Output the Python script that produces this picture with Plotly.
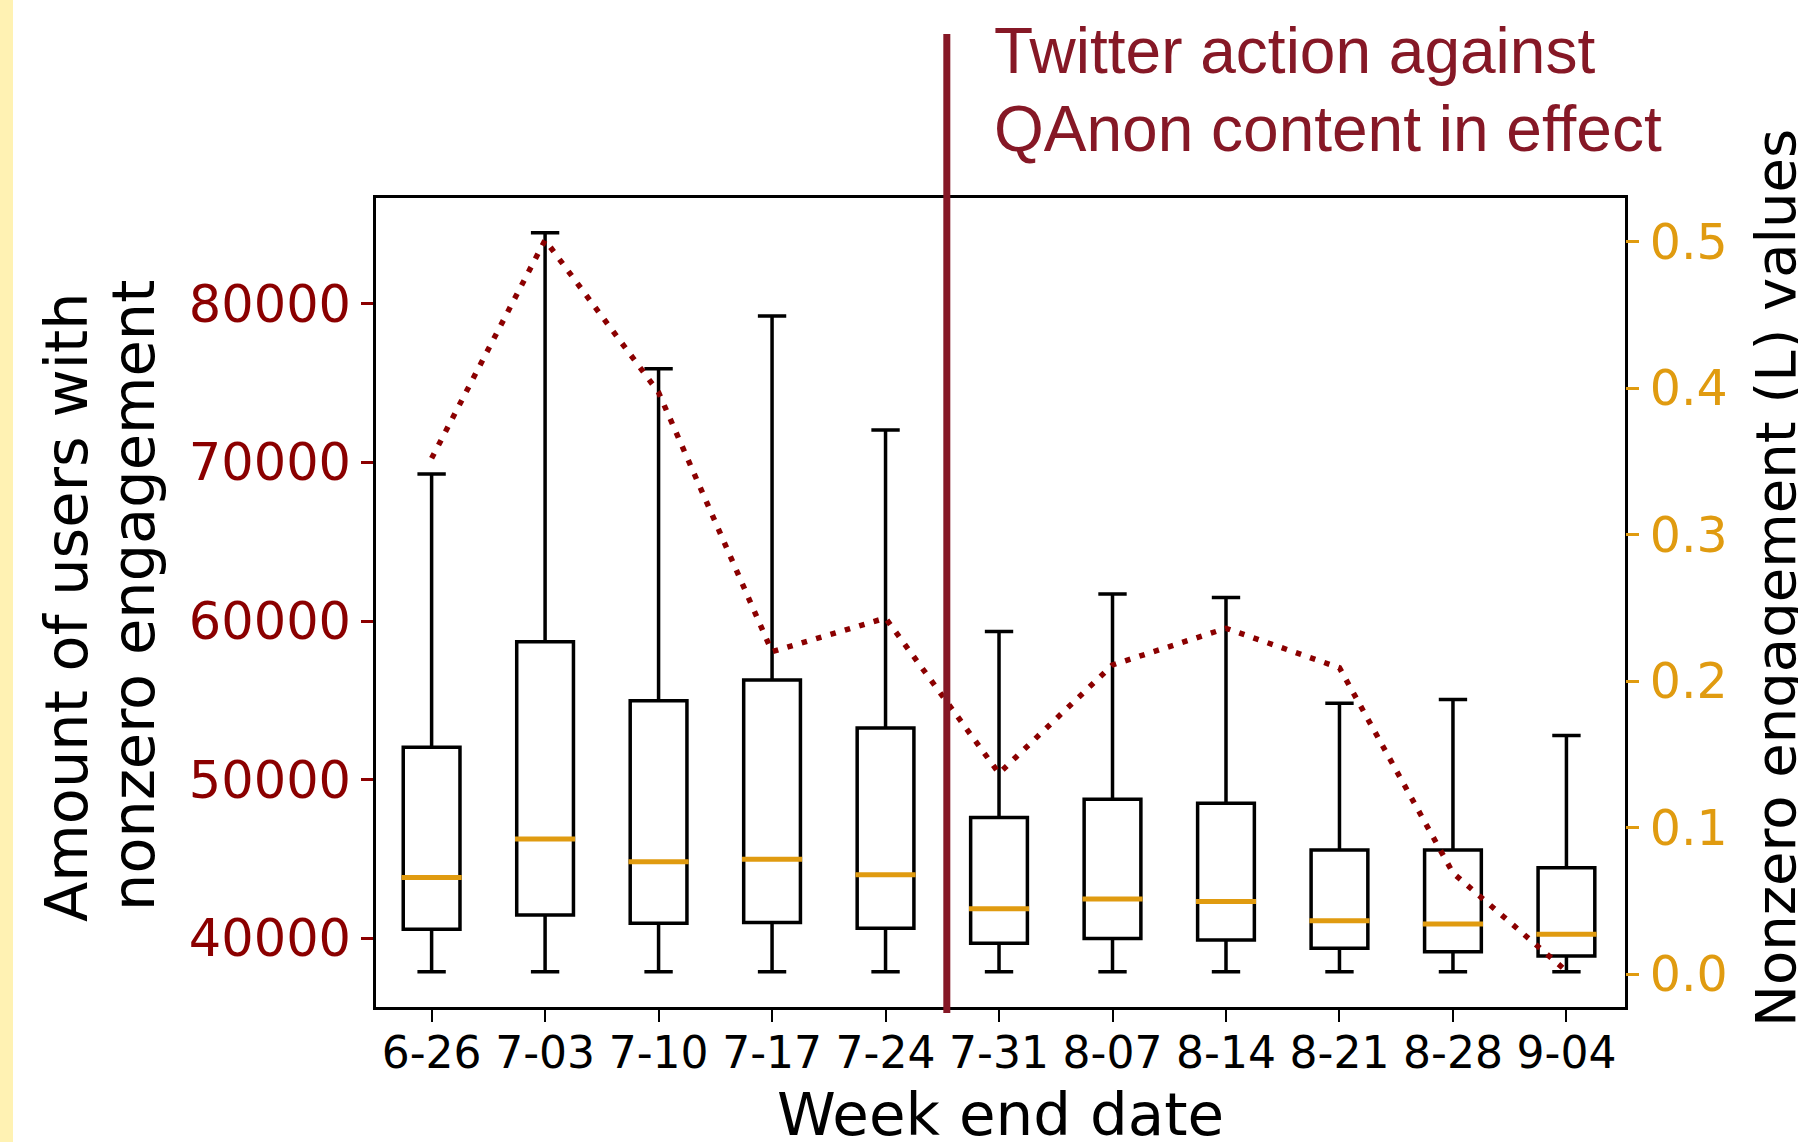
import plotly.graph_objects as go

# ---------------- data ----------------
weeks = ["6-26", "7-03", "7-10", "7-17", "7-24", "7-31", "8-07", "8-14", "8-21", "8-28", "9-04"]
lower_whisker = [37900, 37900, 37900, 37900, 37900, 37900, 37900, 37900, 37900, 37900, 37900]
q1_values = [40570, 41480, 40950, 41010, 40640, 39700, 40000, 39900, 39380, 39160, 38890]
median_values = [43840, 46270, 44840, 44990, 44020, 41870, 42490, 42320, 41120, 40910, 40260]
q3_values = [52060, 58700, 54990, 56300, 53260, 47620, 48780, 48520, 45580, 45580, 44460]
upper_whisker = [69280, 84490, 75920, 79250, 72060, 59350, 61710, 61500, 54830, 55060, 52790]
l_values = [0.352, 0.501, 0.397, 0.220, 0.243, 0.137, 0.211, 0.236, 0.209, 0.069, 0.002]

left_ticks = [40000, 50000, 60000, 70000, 80000]
right_ticks = [0.0, 0.1, 0.2, 0.3, 0.4, 0.5]
event_position = 5.54  # between 7-24 and 7-31

# ---------------- styling ----------------
DARKRED = "#8B0000"
MAROON = "#861826"
ORANGE = "#E09B10"
FONT = "DejaVu Sans"

W, H = 1798, 1142
L_M, R_M, T_M, B_M = 376, 173, 198, 135
PW, PH = W - L_M - R_M, H - T_M - B_M


def px_x(px):
    return (px - L_M) / PW


def px_y(py):
    return (H - B_M - py) / PH


positions = list(range(1, len(weeks) + 1))
box_width = 0.5

fig = go.Figure()

fig.add_trace(go.Box(
    x=positions,
    q1=q1_values,
    median=median_values,
    q3=q3_values,
    lowerfence=lower_whisker,
    upperfence=upper_whisker,
    width=box_width,
    whiskerwidth=0.5,
    line=dict(color="black", width=3.5),
    fillcolor="rgba(0,0,0,0)",
    boxpoints=False,
    showlegend=False,
    hoverinfo="skip",
))

# orange median lines
mx, my = [], []
for p, m in zip(positions, median_values):
    mx += [p - box_width / 2 - 0.015, p + box_width / 2 + 0.015, None]
    my += [m, m, None]
fig.add_trace(go.Scatter(
    x=mx, y=my, mode="lines",
    line=dict(color=ORANGE, width=5),
    showlegend=False, hoverinfo="skip",
))

# dotted L values on right axis
fig.add_trace(go.Scatter(
    x=positions, y=l_values, mode="lines", yaxis="y2",
    line=dict(color=DARKRED, width=5.5, dash="5.5px,9.5px"),
    showlegend=False, hoverinfo="skip",
))

fig.update_layout(
    width=W, height=H,
    margin=dict(l=L_M, r=R_M, t=T_M, b=B_M, pad=0),
    paper_bgcolor="white", plot_bgcolor="white",
    showlegend=False,
    xaxis=dict(
        range=[0.51, 11.516],
        tickmode="array", tickvals=positions, ticktext=weeks,
        ticks="outside", ticklen=12, tickwidth=2, tickcolor="black",
        tickfont=dict(family=FONT, size=44, color="black"),
        ticklabelstandoff=-7,
        showline=True, linecolor="black", linewidth=2.5, mirror=True,
        showgrid=False, zeroline=False,
    ),
    yaxis=dict(
        range=[35675, 86683],
        tickmode="array", tickvals=left_ticks, tickformat="d",
        ticks="outside", ticklen=12, tickwidth=2.5, tickcolor=DARKRED,
        tickfont=dict(family=FONT, size=51, color=DARKRED),
        showline=True, linecolor="black", linewidth=2.5, mirror=True,
        showgrid=False, zeroline=False,
    ),
    yaxis2=dict(
        overlaying="y", side="right",
        range=[-0.0225, 0.5297],
        tickmode="array", tickvals=right_ticks, tickformat=".1f",
        ticks="outside", ticklen=13, tickwidth=2.5, tickcolor=ORANGE,
        tickfont=dict(family=FONT, size=49, color=ORANGE),
        ticklabelstandoff=1,
        showline=False, showgrid=False, zeroline=False,
    ),
)

# yellow strip at left edge
fig.add_shape(type="rect", xref="paper", yref="paper",
              x0=px_x(-5), x1=px_x(13), y0=px_y(H + 5), y1=px_y(-5),
              fillcolor="#FFF2B3", line=dict(width=0), layer="below")

# vertical event line
fig.add_shape(type="line", xref="x", yref="paper",
              x0=event_position, x1=event_position, y0=px_y(1013), y1=px_y(34),
              line=dict(color=MAROON, width=7), layer="above")

annotations = [
    dict(text="Twitter action against", x=px_x(992), y=px_y(51), xanchor="left", yanchor="middle",
         font=dict(family="Liberation Sans, Arial", size=64, color=MAROON)),
    dict(text="QAnon content in effect", x=px_x(992), y=px_y(129), xanchor="left", yanchor="middle",
         font=dict(family="Liberation Sans, Arial", size=64, color=MAROON)),
    dict(text="Amount of users with", x=px_x(66), y=px_y(607), textangle=-90,
         xanchor="center", yanchor="middle", font=dict(family=FONT, size=59, color="black")),
    dict(text="nonzero engagement", x=px_x(133), y=px_y(596), textangle=-90,
         xanchor="center", yanchor="middle", font=dict(family=FONT, size=59, color="black")),
    dict(text="Nonzero engagement (L) values", x=px_x(1775), y=px_y(578), textangle=-90,
         xanchor="center", yanchor="middle", font=dict(family=FONT, size=56, color="black")),
    dict(text="Week end date", x=px_x(1000), y=px_y(1114),
         xanchor="center", yanchor="middle", font=dict(family=FONT, size=59.5, color="black")),
]
for a in annotations:
    fig.add_annotation(xref="paper", yref="paper", showarrow=False, **a)

fig.write_html(
    "out.html",
    config={"displayModeBar": False},
    post_script="document.body.style.margin='0px';document.body.style.overflow='hidden';",
)
